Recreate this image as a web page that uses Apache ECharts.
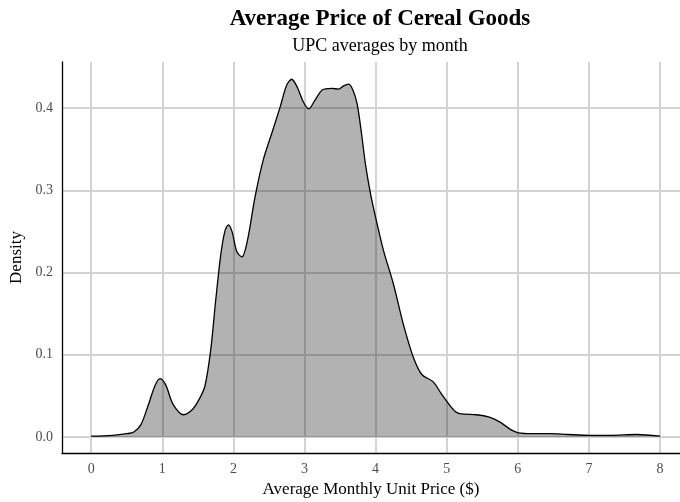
<!DOCTYPE html>
<html>
<head>
<meta charset="utf-8">
<script src="https://cdn.jsdelivr.net/npm/echarts@6/dist/echarts.min.js"></script>
<style>
  html, body { margin: 0; padding: 0; background: #fff; }
  #chart { width: 680px; height: 502px; }
</style>
</head>
<body>
<div id="chart"></div>
<script>
// density estimate (price in $, density)
const priceX = [0.00, 0.30, 0.50, 0.60, 0.70, 0.80, 0.90, 0.97, 1.05, 1.15, 1.30, 1.42, 1.52, 1.60, 1.68, 1.75,
  1.82, 1.88, 1.93, 1.98, 2.05, 2.12, 2.20, 2.30, 2.42, 2.55, 2.66, 2.75, 2.82, 2.90, 2.98, 3.06, 3.15, 3.25,
  3.38, 3.48, 3.55, 3.62, 3.68, 3.74, 3.80, 3.86, 3.93, 4.00, 4.11, 4.25, 4.39, 4.53, 4.65, 4.81, 4.92, 5.03,
  5.12, 5.20, 5.42, 5.60, 5.75, 5.90, 6.01, 6.20, 6.46, 6.70, 7.02, 7.30, 7.67, 8.00];
const densityY = [0.001, 0.002, 0.004, 0.006, 0.015, 0.038, 0.063, 0.071, 0.063, 0.040, 0.027, 0.033, 0.046, 0.062, 0.105, 0.165,
  0.220, 0.250, 0.258, 0.250, 0.225, 0.219, 0.240, 0.290, 0.337, 0.372, 0.402, 0.428, 0.435, 0.425, 0.408, 0.399, 0.410, 0.422,
  0.424, 0.423, 0.427, 0.429, 0.422, 0.405, 0.370, 0.330, 0.295, 0.267, 0.227, 0.186, 0.137, 0.097, 0.076, 0.067, 0.053, 0.040,
  0.031, 0.028, 0.027, 0.024, 0.018, 0.009, 0.005, 0.004, 0.004, 0.003, 0.002, 0.002, 0.003, 0.001];
const xTicks = [0, 1, 2, 3, 4, 5, 6, 7, 8];
const yTicks = [0, 0.1, 0.2, 0.3, 0.4];

const font = 'Liberation Serif';
const chart = echarts.init(document.getElementById('chart'));

chart.setOption({
  animation: false,
  title: [
    {
      text: 'Average Price of Cereal Goods',
      left: 375, top: 3, textAlign: 'center',
      textStyle: { fontFamily: font, fontSize: 23, fontWeight: 'bold', color: '#000' }
    },
    {
      text: 'UPC averages by month',
      left: 375, top: 32, textAlign: 'center',
      textStyle: { fontFamily: font, fontSize: 18, fontWeight: 'normal', color: '#000' }
    }
  ],
  grid: { left: 62, right: 0, top: 62, bottom: 49, outerBoundsMode: 'none' },
  xAxis: {
    type: 'value',
    min: -0.41, max: 8.28,
    name: 'Average Monthly Unit Price ($)',
    nameLocation: 'middle', nameGap: 28,
    nameTextStyle: { fontFamily: font, fontSize: 17, color: '#000' },
    axisLine: { show: true, onZero: false, lineStyle: { color: '#000', width: 1.3 } },
    axisTick: { show: false, customValues: xTicks },
    axisLabel: {
      customValues: xTicks, margin: 9,
      fontFamily: font, fontSize: 14, color: '#4d4d4d'
    },
    splitLine: { show: true, lineStyle: { color: '#d3d3d3', width: 2 } }
  },
  yAxis: {
    type: 'value',
    min: -0.0195, max: 0.456,
    name: 'Density',
    nameLocation: 'middle', nameGap: 33,
    nameTextStyle: { fontFamily: font, fontSize: 17, color: '#000' },
    axisLine: { show: true, onZero: false, lineStyle: { color: '#000', width: 1.3 } },
    axisTick: { show: false, customValues: yTicks },
    axisLabel: {
      customValues: yTicks, margin: 9,
      formatter: v => v.toFixed(1),
      fontFamily: font, fontSize: 14, color: '#4d4d4d'
    },
    splitLine: { show: true, lineStyle: { color: '#d3d3d3', width: 2 } }
  },
  series: [{
    type: 'line',
    data: priceX.map((x, i) => [x, densityY[i]]),
    smooth: 0.3,
    showSymbol: false,
    lineStyle: { color: '#000', width: 1.3 },
    areaStyle: { color: 'rgba(0,0,0,0.3)', opacity: 1, origin: 0 }
  }]
});
</script>
</body>
</html>
